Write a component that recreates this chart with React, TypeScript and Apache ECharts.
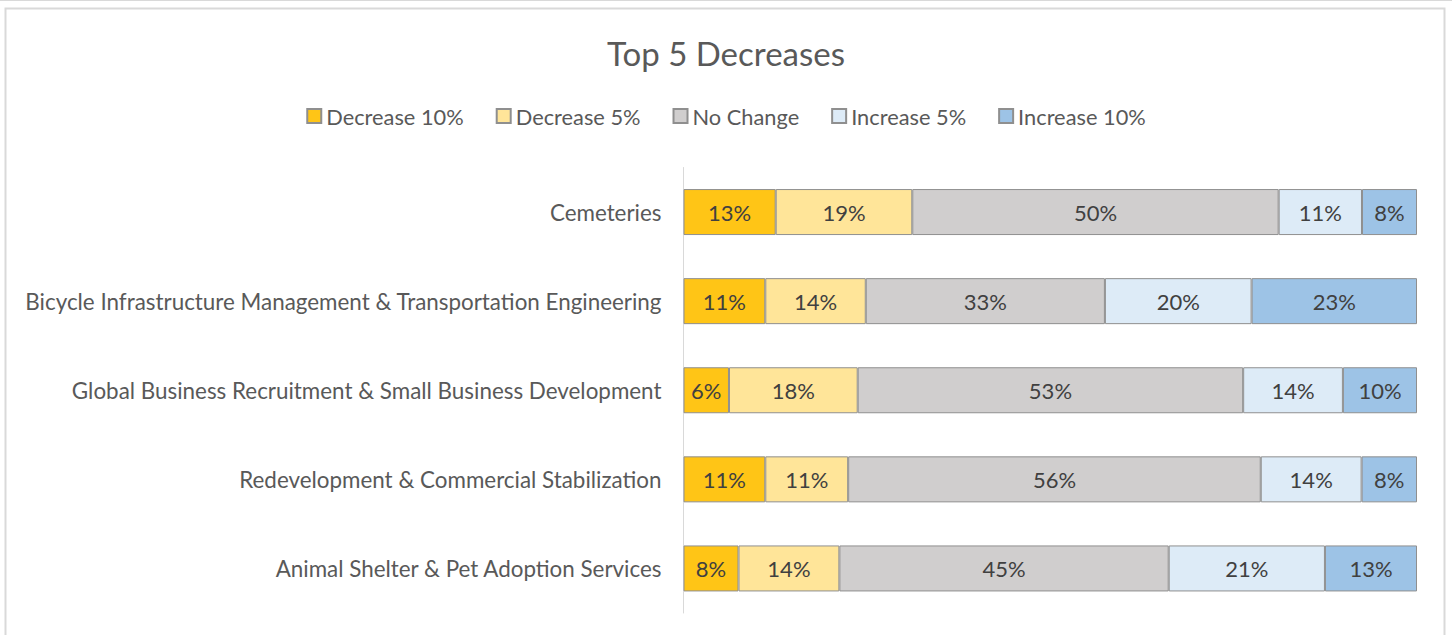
import React, { useEffect, useRef } from "react";
import * as echarts from "echarts";

const categories = [
  "Cemeteries",
  "Bicycle Infrastructure Management & Transportation Engineering",
  "Global Business Recruitment & Small Business Development",
  "Redevelopment & Commercial Stabilization",
  "Animal Shelter & Pet Adoption Services",
];

const seriesNames = ["Decrease 10%", "Decrease 5%", "No Change", "Increase 5%", "Increase 10%"];

const decrease10 = [12.57, 11.15, 6.2, 11.15, 7.5];
const decrease5 = [18.62, 13.7, 17.55, 11.3, 13.75];
const noChange = [49.95, 32.6, 52.55, 56.25, 44.9];
const increase5 = [11.36, 20.0, 13.6, 13.75, 21.3];
const increase10 = [7.5, 22.55, 10.1, 7.55, 12.55];

const colors = ["#FFC516", "#FFE599", "#D0CECE", "#DDEBF7", "#9DC3E6"];

const FONT = "Lato";

export default function App() {
  const ref = useRef<HTMLDivElement>(null);
  useEffect(() => {
    if (!ref.current) return;
    const chart = echarts.init(ref.current, undefined, { renderer: "svg" });
    const data = [decrease10, decrease5, noChange, increase5, increase10];
    chart.setOption({
      animation: false,
      backgroundColor: "#ffffff",
      textStyle: { fontFamily: FONT },
      title: {
        text: "Top 5 Decreases",
        left: "center",
        top: 31,
        textStyle: { fontFamily: FONT, fontSize: 33, fontWeight: "normal", color: "#595959" },
      },
      legend: {
        data: seriesNames,
        top: 100,
        left: "center",
        itemWidth: 14,
        itemHeight: 14,
        itemGap: 32,
        icon: "rect",
        textStyle: { fontFamily: FONT, fontSize: 21.8, color: "#595959" },
      },
      grid: { left: 683.5, right: 35, top: 167.5, bottom: 22, containLabel: false },
      xAxis: {
        type: "value",
        min: 0,
        max: 100,
        show: false,
      },
      yAxis: {
        type: "category",
        data: categories,
        inverse: true,
        axisLine: { show: true, lineStyle: { color: "#d9d9d9", width: 1 } },
        axisTick: { show: false },
        axisLabel: { fontFamily: FONT, fontSize: 22.4, color: "#595959", margin: 22 },
      },
      graphic: [
        { type: "line", shape: { x1: 0, y1: 0.5, x2: 1452, y2: 0.5 }, style: { stroke: "#d9d9d9", lineWidth: 1 } },
        {
          type: "rect",
          shape: { x: 5.5, y: 8.5, width: 1439, height: 640 },
          style: { fill: "none", stroke: "#d9d9d9", lineWidth: 2 },
        },
      ],
      series: seriesNames.map((name, i) => ({
        name,
        type: "bar",
        stack: "total",
        barWidth: 46,
        data: data[i],
        itemStyle: { color: colors[i], borderColor: "#8f8f8f", borderWidth: 1 },
        label: {
          show: true,
          position: "inside",
          fontFamily: FONT,
          fontSize: 22,
          color: "#404040",
          formatter: (p: any) => Math.round(p.value) + "%",
        },
      })),
    });
    return () => chart.dispose();
  }, []);
  return <div ref={ref} style={{ position: "absolute", left: 0, top: 0, width: 1452, height: 635 }} />;
}
